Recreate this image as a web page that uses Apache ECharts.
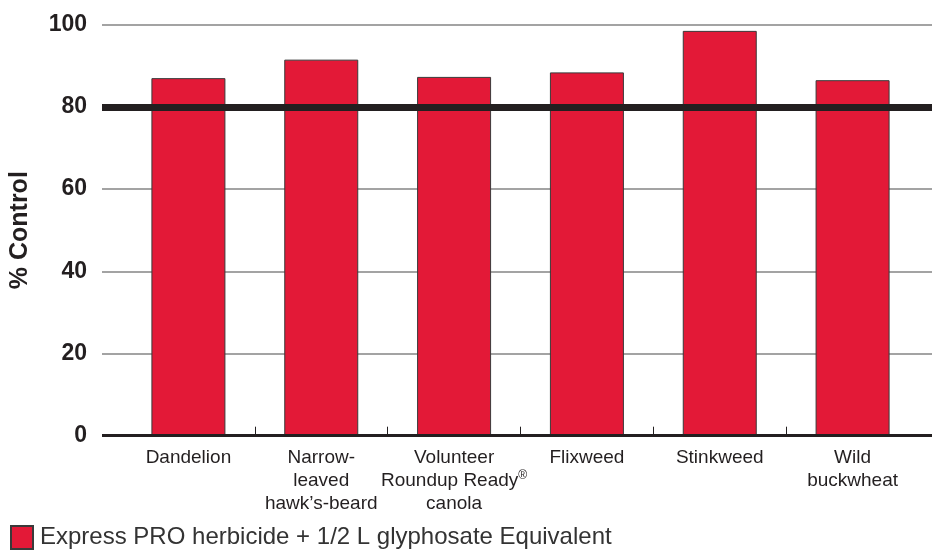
<!DOCTYPE html>
<html>
<head>
<meta charset="utf-8">
<script src="https://cdn.jsdelivr.net/npm/echarts@6/dist/echarts.min.js"></script>
<style>
html,body{margin:0;padding:0;background:#fff;}
#chart{width:932px;height:552px;}
</style>
</head>
<body>
<div id="chart"></div>
<script>
var categories = ['Dandelion', 'Narrow-\nleaved\nhawk\u2019s-beard', 'Volunteer\nRoundup Ready\u00ae\ncanola', 'Flixweed', 'Stinkweed', 'Wild\nbuckwheat'];
var controlValues = [87, 91.5, 87.3, 88.4, 98.5, 86.5];
var seriesName = 'Express PRO herbicide + 1/2 L glyphosate Equivalent';
var yTicks = [0, 20, 40, 60, 80, 100];
var thresholdValue = 80;

var dark = '#231f20';
var red = '#e31937';
var chart = echarts.init(document.getElementById('chart'), null, {renderer: 'canvas'});

var option = {
  animation: false,
  backgroundColor: '#ffffff',
  grid: [
    {left: 101, right: 0, top: 24.7, bottom: 116.3},
    {left: 122, right: 13, top: 24.7, bottom: 116.3}
  ],
  legend: {
    data: [seriesName],
    left: 10, top: 525, padding: 0,
    icon: 'rect',
    itemWidth: 22, itemHeight: 23,
    itemGap: 8,
    textStyle: {fontFamily: 'Liberation Sans, Arial, sans-serif', fontSize: 24, color: '#333', padding: [0, 0, 0, 2]}
  },
  xAxis: [
    {gridIndex: 0, type: 'value', min: 0, max: 1, show: false},
    {
      gridIndex: 1, type: 'category', data: categories,
      axisLine: {show: false}, axisTick: {show: false},
      axisLabel: {
        interval: 0, margin: 11,
        fontFamily: 'Liberation Sans, Arial, sans-serif',
        fontSize: 19, lineHeight: 23, color: dark,
        formatter: function (v) { return v.replace('\u00ae', '{sup|\u00ae}'); },
        rich: {sup: {fontSize: 12, verticalAlign: 'top', color: dark, lineHeight: 23, padding: [0, 0, 8, 0],
          fontFamily: 'Liberation Sans, Arial, sans-serif'}}
      }
    },
    {
      gridIndex: 1, type: 'value', min: 0, max: categories.length, interval: 1,
      position: 'bottom',
      axisLine: {show: false}, axisLabel: {show: false}, splitLine: {show: false},
      axisTick: {show: true, inside: true, length: 9, lineStyle: {color: dark, width: 1},
        customValues: [1, 2, 3, 4, 5]}
    }
  ],
  yAxis: [
    {
      gridIndex: 0, type: 'value', min: yTicks[0], max: yTicks[yTicks.length - 1], interval: 20,
      name: '% Control', nameLocation: 'middle', nameGap: 69, nameRotate: 90,
      nameTextStyle: {fontFamily: 'Liberation Sans, Arial, sans-serif', fontWeight: 'bold', fontSize: 25, color: dark},
      axisLine: {show: false}, axisTick: {show: false},
      axisLabel: {margin: 15, fontFamily: 'Liberation Sans, Arial, sans-serif', fontWeight: 'bold', fontSize: 23, color: dark},
      splitLine: {show: true, lineStyle: {color: '#858585', width: 1.5}}
    },
    {gridIndex: 1, type: 'value', min: 0, max: 100, show: false}
  ],
  series: [
    {
      type: 'line', xAxisIndex: 0, yAxisIndex: 0, data: [], silent: true, z: 1,
      markLine: {
        silent: true, symbol: ['none', 'none'], label: {show: false}, animation: false,
        data: [
          {yAxis: thresholdValue, lineStyle: {color: dark, width: 7, type: 'solid'}},
          {yAxis: 0, lineStyle: {color: dark, width: 3, type: 'solid'}}
        ]
      }
    },
    {
      name: seriesName, type: 'bar', xAxisIndex: 1, yAxisIndex: 1, z: 3,
      data: controlValues, barWidth: 74,
      itemStyle: {color: red, borderColor: '#3a3a3a', borderWidth: 1}
    }
  ]
};
chart.setOption(option);
</script>
</body>
</html>
